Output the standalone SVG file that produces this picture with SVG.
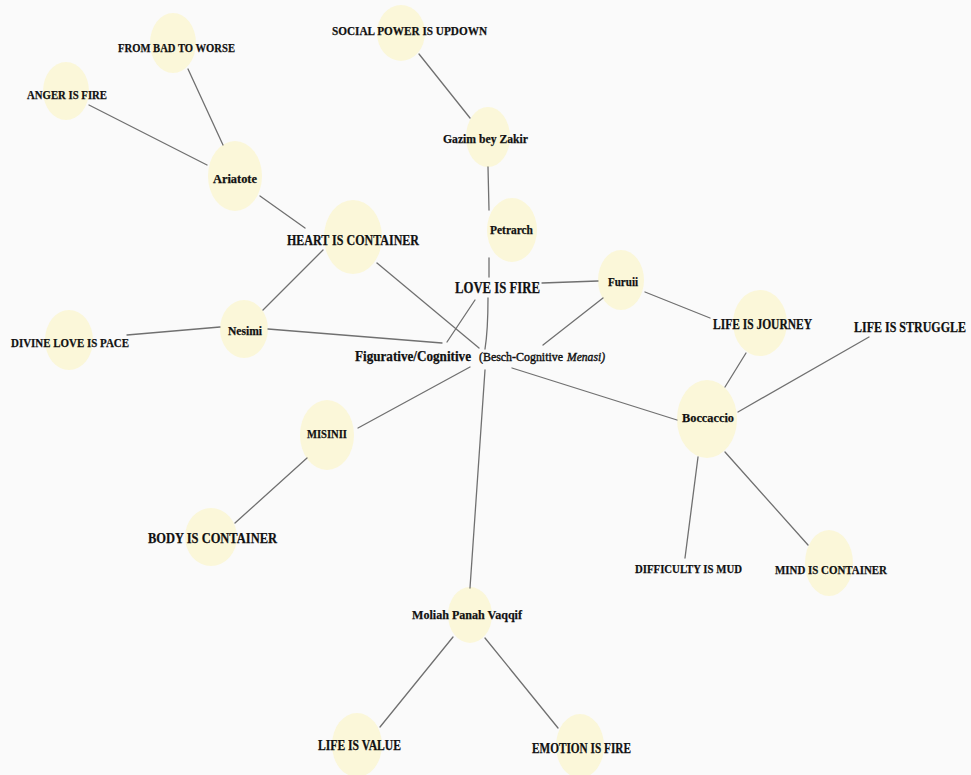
<svg xmlns="http://www.w3.org/2000/svg" width="971" height="775" viewBox="0 0 971 775">
<style>
.bg{fill:#fafafa}
.n{fill:#fbf7d9}
.e{stroke:#707070;stroke-width:1.3;fill:none;stroke-linecap:round}
text{font-family:"Liberation Serif","Times New Roman",serif;font-weight:bold;fill:#111;stroke:#111;stroke-width:0.25}
.s12{font-size:12px}.s13{font-size:13px}.s14{font-size:14px}.s15{font-size:15px}.s16{font-size:16px}
</style>
<rect class="bg" x="0" y="0" width="971" height="775"/>
<g id="n-from-bad"><ellipse class="n" cx="173" cy="43" rx="23" ry="30"/></g>
<g id="n-anger"><ellipse class="n" cx="66" cy="91" rx="23" ry="29"/></g>
<g id="n-social"><ellipse class="n" cx="401" cy="33" rx="24" ry="28"/></g>
<g id="n-gazim"><ellipse class="n" cx="488" cy="137" rx="22" ry="30"/></g>
<g id="n-petrarch"><ellipse class="n" cx="512" cy="230" rx="25" ry="32"/></g>
<g id="n-ariatote"><ellipse class="n" cx="235" cy="176" rx="27" ry="35"/></g>
<g id="n-heart"><ellipse class="n" cx="353" cy="237" rx="29" ry="37"/></g>
<g id="n-furuii"><ellipse class="n" cx="621" cy="280" rx="23" ry="30"/></g>
<g id="n-journey"><ellipse class="n" cx="760" cy="323" rx="27" ry="33"/></g>
<g id="n-nesimi"><ellipse class="n" cx="244" cy="329" rx="24" ry="29"/></g>
<g id="n-divine"><ellipse class="n" cx="69" cy="340" rx="24" ry="30"/></g>
<g id="n-misinii"><ellipse class="n" cx="327" cy="435" rx="27" ry="35"/></g>
<g id="n-body"><ellipse class="n" cx="211" cy="537" rx="26" ry="29"/></g>
<g id="n-boccaccio"><ellipse class="n" cx="707" cy="419" rx="30" ry="39"/></g>
<g id="n-mind"><ellipse class="n" cx="829" cy="563" rx="24" ry="33"/></g>
<g id="n-moliah"><ellipse class="n" cx="470" cy="615" rx="22" ry="28"/></g>
<g id="n-value"><ellipse class="n" cx="357" cy="745" rx="25" ry="32"/></g>
<g id="n-emotion"><ellipse class="n" cx="580" cy="746" rx="24" ry="32"/></g>

<g id="connectors">
<path class="e" d="M89,105 L207,165"/>
<path class="e" d="M188,69 L223,145"/>
<path class="e" d="M260,196 L305,228"/>
<path class="e" d="M419,54 L470,118"/>
<path class="e" d="M488,167 L489,210"/>
<path class="e" d="M489,258 L489,277"/>
<path class="e" d="M488,298 Q488,330 485,349"/>
<path class="e" d="M485,370 L470,588"/>
<path class="e" d="M377,263 L479,348"/>
<path class="e" d="M263,310 L323,250"/>
<path class="e" d="M127,335 L220,327"/>
<path class="e" d="M268,329 L442,343"/>
<path class="e" d="M447,342 L475,300"/>
<path class="e" d="M542,283 L598,281"/>
<path class="e" d="M603,298 L543,345"/>
<path class="e" d="M645,292 L710,318"/>
<path class="e" d="M746,353 L725,387"/>
<path class="e" d="M869,337 L738,412"/>
<path class="e" d="M512,368 L677,420"/>
<path class="e" d="M698,457 L685,558"/>
<path class="e" d="M725,452 L808,545"/>
<path class="e" d="M358,428 L470,367"/>
<path class="e" d="M307,458 L235,523"/>
<path class="e" d="M453,637 L380,727"/>
<path class="e" d="M485,638 L558,728"/>
</g>

<g id="labels">
<text id="t-from-bad" class="s13" x="118" y="52" textLength="117" lengthAdjust="spacingAndGlyphs">FROM BAD TO WORSE</text>
<text id="t-anger" class="s13" x="27" y="99" textLength="80" lengthAdjust="spacingAndGlyphs">ANGER IS FIRE</text>
<text id="t-social" class="s13" x="332" y="35" textLength="155" lengthAdjust="spacingAndGlyphs">SOCIAL POWER IS UPDOWN</text>
<text id="t-gazim" class="s13" x="443" y="143" textLength="85" lengthAdjust="spacingAndGlyphs">Gazim bey Zakir</text>
<text id="t-petrarch" class="s13" x="490" y="234" textLength="43" lengthAdjust="spacingAndGlyphs">Petrarch</text>
<text id="t-ariatote" class="s12" x="213" y="183" textLength="44" lengthAdjust="spacingAndGlyphs">Ariatote</text>
<text id="t-heart" class="s15" x="287" y="245" textLength="132" lengthAdjust="spacingAndGlyphs">HEART IS CONTAINER</text>
<text id="t-love" class="s16" x="455" y="293" textLength="85" lengthAdjust="spacingAndGlyphs">LOVE IS FIRE</text>
<text id="t-furuii" class="s12" x="608" y="286" textLength="30" lengthAdjust="spacingAndGlyphs">Furuii</text>
<text id="t-journey" class="s15" x="713" y="329" textLength="99" lengthAdjust="spacingAndGlyphs">LIFE IS JOURNEY</text>
<text id="t-struggle" class="s15" x="854" y="332" textLength="112" lengthAdjust="spacingAndGlyphs">LIFE IS STRUGGLE</text>
<text id="t-nesimi" class="s12" x="228" y="335" textLength="34" lengthAdjust="spacingAndGlyphs">Nesimi</text>
<text id="t-divine" class="s13" x="11" y="347" textLength="118" lengthAdjust="spacingAndGlyphs">DIVINE LOVE IS PACE</text>
<text id="t-fig" class="s14" x="355" y="361" textLength="116" lengthAdjust="spacingAndGlyphs">Figurative/Cognitive</text>
<text id="t-besch" class="s12" x="479" y="361" textLength="84" lengthAdjust="spacingAndGlyphs" style="font-weight:normal;stroke-width:0.4">(Besch-Cognitive</text>
<text id="t-menasi" class="s12" x="567" y="361" textLength="38" lengthAdjust="spacingAndGlyphs" style="font-weight:normal;font-style:italic;stroke-width:0.4">Menasi)</text>
<text id="t-misinii" class="s12" x="307" y="438" textLength="40" lengthAdjust="spacingAndGlyphs">MISINII</text>
<text id="t-body" class="s15" x="148" y="543" textLength="129" lengthAdjust="spacingAndGlyphs">BODY IS CONTAINER</text>
<text id="t-boccaccio" class="s13" x="682" y="422" textLength="52" lengthAdjust="spacingAndGlyphs">Boccaccio</text>
<text id="t-mud" class="s13" x="635" y="573" textLength="107" lengthAdjust="spacingAndGlyphs">DIFFICULTY IS MUD</text>
<text id="t-mind" class="s13" x="775" y="574" textLength="112" lengthAdjust="spacingAndGlyphs">MIND IS CONTAINER</text>
<text id="t-moliah" class="s13" x="412" y="619" textLength="110" lengthAdjust="spacingAndGlyphs">Moliah Panah Vaqqif</text>
<text id="t-value" class="s14" x="318" y="750" textLength="83" lengthAdjust="spacingAndGlyphs">LIFE IS VALUE</text>
<text id="t-emotion" class="s14" x="532" y="753" textLength="99" lengthAdjust="spacingAndGlyphs">EMOTION IS FIRE</text>
</g>
</svg>
